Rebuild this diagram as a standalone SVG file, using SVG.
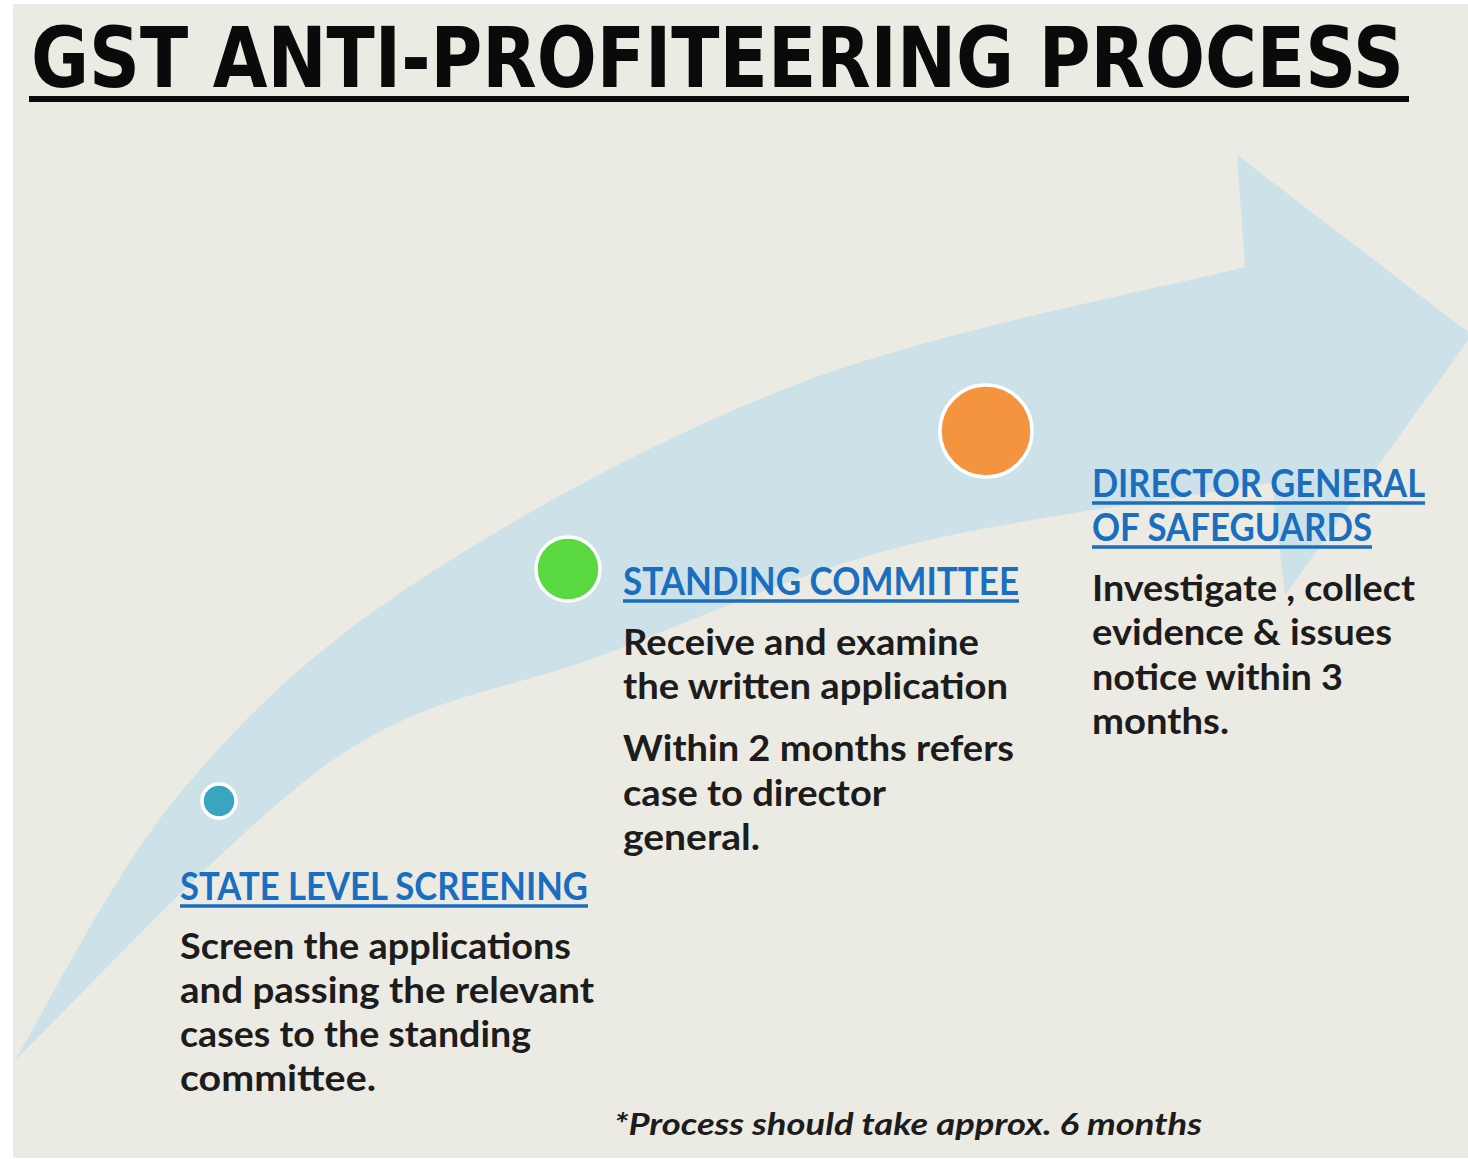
<svg xmlns="http://www.w3.org/2000/svg" width="1468" height="1159" viewBox="0 0 1468 1159">
  <style>
    .title { font-family: "DejaVu Sans", "Open Sans", sans-serif; font-weight: 700; font-size: 84px; fill: #0a0a0a; }
    .head { font-family: Lato, "Open Sans", sans-serif; font-weight: 700; font-size: 38px; fill: #1a6ebf; }
    .body { font-family: Lato, "Open Sans", sans-serif; font-weight: 700; font-size: 37px; fill: #1c1c1c; }
    .note { font-family: Lato, "Open Sans", sans-serif; font-weight: 700; font-style: italic; font-size: 30px; fill: #1c1c1c; }
    .uline { stroke: #1a6ebf; stroke-width: 3.5; }
    .dot { stroke: #ffffff; stroke-width: 3.5; }
  </style>

  <!-- page -->
  <rect x="0" y="0" width="1468" height="1159" fill="#ffffff"/>
  <rect x="13" y="4" width="1455" height="1154" fill="#ecebe3"/>

  <!-- title (horizontally condensed heavy sans) -->
  <g id="title">
    <text class="title" transform="translate(31,87) scale(0.8,1)" x="0" y="0" textLength="1716" lengthAdjust="spacingAndGlyphs">GST ANTI-PROFITEERING PROCESS</text>
    <rect x="29" y="96" width="1380" height="6" fill="#0a0a0a"/>
  </g>

  <!-- curved progress arrow -->
  <g id="connectors">
    <path id="arrow" fill="#cde1e9"
      d="M15,1060
         C42.5,1015.5 113.3,872.5 180,793
         C246.7,713.5 311.7,651.3 415,583
         C518.3,514.7 661.7,435.7 800,383
         C938.3,330.3 1170.8,286.3 1245,267
         L1237,155 L1472,335 L1285,595 L1272,483
         C1210,493.7 1012,518.2 900,547
         C788,575.8 694.5,620.5 600,656
         C505.5,691.5 430.5,692.7 333,760
         C235.5,827.3 68,1010 15,1060 Z"/>
  </g>

  <!-- stage 1 -->
  <g id="state-level-screening">
    <circle class="dot" cx="219" cy="801" r="17" fill="#3aa5c0"/>
    <text class="head" x="180" y="900" textLength="408" lengthAdjust="spacingAndGlyphs">STATE LEVEL SCREENING</text>
    <line class="uline" x1="180" y1="906" x2="588" y2="906"/>
    <text class="body" x="180" y="959" textLength="391" lengthAdjust="spacingAndGlyphs">Screen the applications</text>
    <text class="body" x="180" y="1003" textLength="414" lengthAdjust="spacingAndGlyphs">and passing the relevant</text>
    <text class="body" x="180" y="1047" textLength="351" lengthAdjust="spacingAndGlyphs">cases to the standing</text>
    <text class="body" x="180" y="1091" textLength="196" lengthAdjust="spacingAndGlyphs">committee.</text>
  </g>

  <!-- stage 2 -->
  <g id="standing-committee">
    <circle class="dot" cx="568" cy="569" r="32" fill="#5ad83f"/>
    <text class="head" x="623" y="595" textLength="396" lengthAdjust="spacingAndGlyphs">STANDING COMMITTEE</text>
    <line class="uline" x1="623" y1="601" x2="1019" y2="601"/>
    <text class="body" x="623" y="655" textLength="356" lengthAdjust="spacingAndGlyphs">Receive and examine</text>
    <text class="body" x="623" y="699" textLength="385" lengthAdjust="spacingAndGlyphs">the written application</text>
    <text class="body" x="623" y="761" textLength="391" lengthAdjust="spacingAndGlyphs">Within 2 months refers</text>
    <text class="body" x="623" y="806" textLength="263" lengthAdjust="spacingAndGlyphs">case to director</text>
    <text class="body" x="623" y="850" textLength="137" lengthAdjust="spacingAndGlyphs">general.</text>
  </g>

  <!-- stage 3 -->
  <g id="director-general">
    <circle class="dot" cx="986" cy="431" r="46" fill="#f5943f"/>
    <text class="head" x="1092" y="497" textLength="333" lengthAdjust="spacingAndGlyphs">DIRECTOR GENERAL</text>
    <line class="uline" x1="1092" y1="503" x2="1425" y2="503"/>
    <text class="head" x="1092" y="541" textLength="280" lengthAdjust="spacingAndGlyphs">OF SAFEGUARDS</text>
    <line class="uline" x1="1092" y1="547" x2="1372" y2="547"/>
    <text class="body" x="1092" y="601" textLength="323" lengthAdjust="spacingAndGlyphs">Investigate , collect</text>
    <text class="body" x="1092" y="645" textLength="300" lengthAdjust="spacingAndGlyphs">evidence &amp; issues</text>
    <text class="body" x="1092" y="690" textLength="251" lengthAdjust="spacingAndGlyphs">notice within 3</text>
    <text class="body" x="1092" y="734" textLength="137" lengthAdjust="spacingAndGlyphs">months.</text>
  </g>

  <!-- footnote -->
  <text class="note" x="614" y="1135" textLength="588" lengthAdjust="spacingAndGlyphs">*Process should take approx. 6 months</text>
</svg>
